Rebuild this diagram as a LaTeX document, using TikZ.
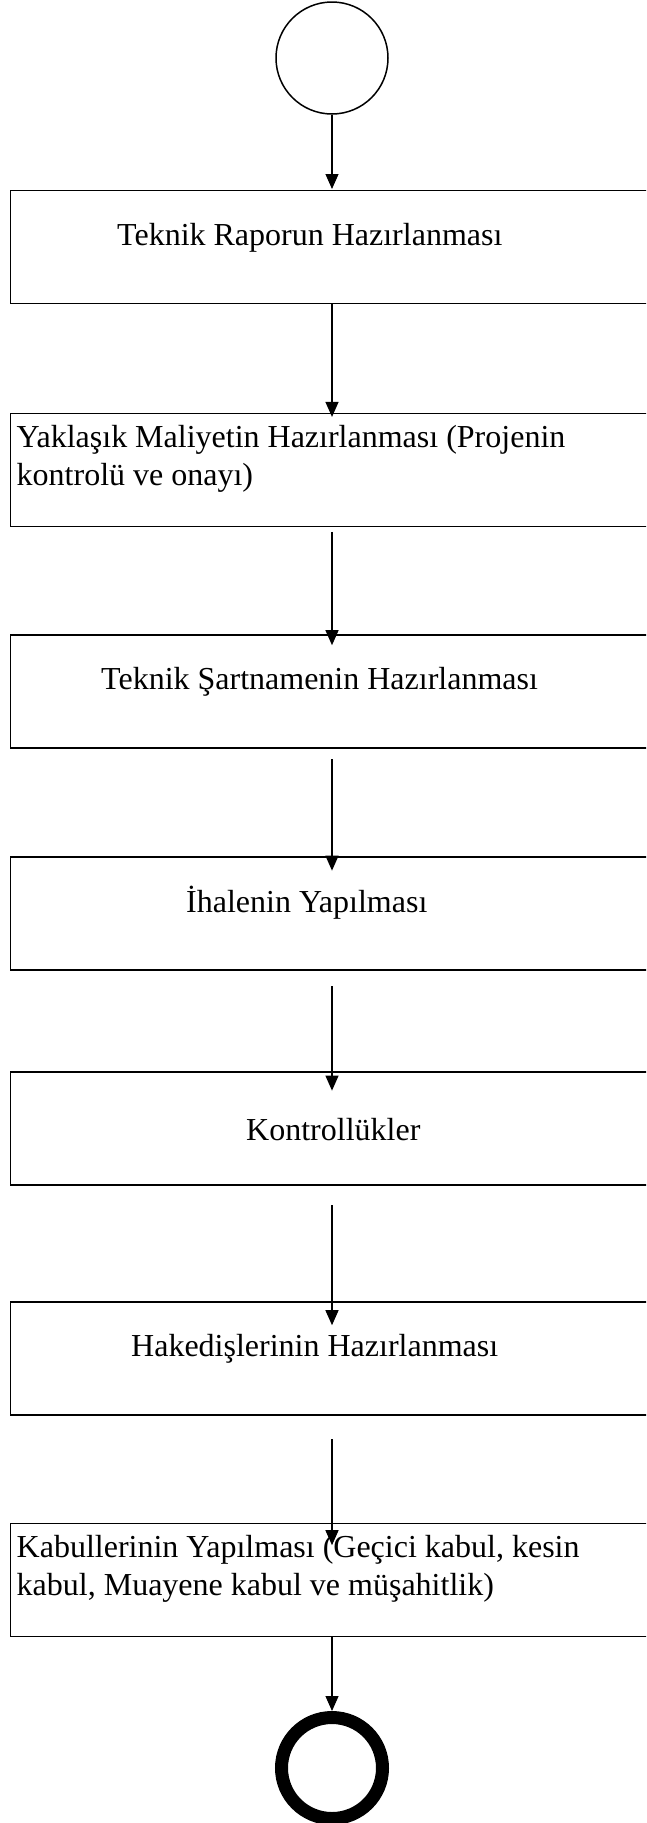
\documentclass[tikz,border=0pt]{standalone}
\usepackage{fontspec}
\setmainfont{Liberation Serif}
\usetikzlibrary{arrows.meta}
\begin{document}
\begin{tikzpicture}[x=1pt,y=1pt,
  boxst/.style={draw, line width=1.8pt, minimum width=643pt, minimum height=113pt, inner sep=0pt, outer sep=0pt},
  lbl/.style={inner sep=0pt, anchor=base west, font=\fontsize{32}{37.7}\selectfont},
  arr/.style={line width=1.2pt, -{Triangle[length=15pt,width=13pt]}},
]
\useasboundingbox (0,0) rectangle (646,-1823);
\clip (0,0) rectangle (646,-1823);
\fill[white] (0,0) rectangle (646,-1823);

\node[circle, draw, line width=1.5pt, minimum size=112pt, inner sep=0pt] (start) at (332,-58) {};

\node[boxst] (b1) at (332,-247) {};
\node[boxst] (b2) at (332,-470) {};
\node[boxst] (b3) at (332,-691.7) {};
\node[boxst] (b4) at (332,-913.7) {};
\node[boxst] (b5) at (332,-1128.7) {};
\node[boxst] (b6) at (332,-1358.4) {};
\node[boxst] (b7) at (332,-1580) {};

\node[circle, draw, line width=13pt, minimum size=101pt, inner sep=0pt] (end) at (332,-1768) {};

\node[lbl] (t1) at (117,-245) {Teknik Raporun Hazırlanması};
\node[lbl] (t2a) at (16.5,-447.3) {Yaklaşık Maliyetin Hazırlanması (Projenin};
\node[lbl] (t2b) at (16.5,-485) {kontrolü ve onayı)};
\node[lbl] (t3) at (101,-689.3) {Teknik Şartnamenin Hazırlanması};
\node[lbl] (t4) at (186,-912.3) {İhalenin Yapılması};
\node[lbl] (t5) at (246,-1140) {Kontrollükler};
\node[lbl] (t6) at (131,-1356.7) {Hakedişlerinin Hazırlanması};
\node[lbl] (t7a) at (16.5,-1557.3) {Kabullerinin Yapılması (Geçici kabul, kesin};
\node[lbl] (t7b) at (16.5,-1595) {kabul, Muayene kabul ve müşahitlik)};

\draw[arr] (start.south) -- ([yshift=1.5pt]b1.north);
\draw[arr] (b1.south) -- ([yshift=-3.4pt]b2.north);
\draw[arr] ([yshift=-5.3pt]b2.south) -- ([yshift=-10pt]b3.north);
\draw[arr] ([yshift=-11pt]b3.south) -- ([yshift=-13.4pt]b4.north);
\draw[arr] ([yshift=-16pt]b4.south) -- ([yshift=-18.4pt]b5.north);
\draw[arr] ([yshift=-20pt]b5.south) -- ([yshift=-23.3pt]b6.north);
\draw[arr] ([yshift=-24.3pt]b6.south) -- ([yshift=-21.7pt]b7.north);
\draw[arr] (b7.south) -- (end.north);
\end{tikzpicture}
\end{document}
